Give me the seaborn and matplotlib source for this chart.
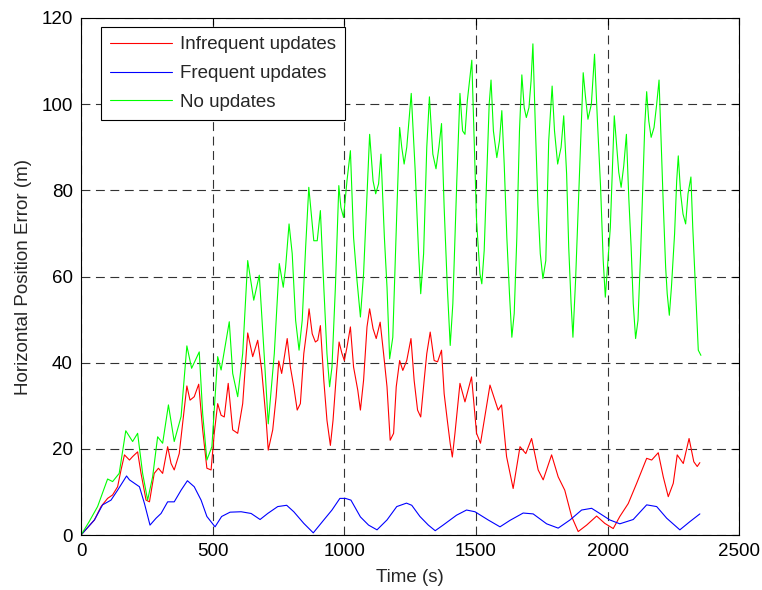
import matplotlib
matplotlib.use("Agg")
import matplotlib.pyplot as plt
import seaborn as sns
import pandas as pd

# Horizontal position error traces (time in s, error in m)
infrequent_t = [0, 51, 76, 101, 120, 139, 152, 165, 184, 196, 215, 228, 247, 260, 278, 294, 310, 329, 342, 354,
                373, 389, 402, 414, 430, 447, 462, 478, 494, 506, 519, 532, 544, 559, 576, 595, 614, 633, 652, 671,
                686, 703, 711, 728, 741, 751, 762, 770, 783, 795, 808, 821, 833, 846, 859, 866, 878, 890, 899, 909,
                922, 934, 947, 957, 970, 980, 991, 1000, 1010, 1023, 1035, 1051, 1061, 1073, 1086, 1096, 1109, 1121,
                1136, 1149, 1162, 1174, 1187, 1197, 1210, 1222, 1237, 1253, 1265, 1278, 1290, 1303, 1313, 1326,
                1341, 1354, 1369, 1379, 1391, 1402, 1410, 1420, 1439, 1458, 1483, 1502, 1517, 1553, 1584, 1597,
                1616, 1641, 1667, 1689, 1711, 1736, 1755, 1787, 1812, 1837, 1863, 1888, 1920, 1958, 1989, 2021,
                2046, 2078, 2110, 2148, 2167, 2192, 2211, 2230, 2249, 2264, 2287, 2309, 2327, 2340, 2350]
infrequent_v = [0, 3.5, 6.6, 8.5, 9.3, 11.2, 15.1, 18.6, 17.4, 18.2, 19.3, 14.3, 8.1, 7.7, 14.3, 15.5, 14.3, 20.5,
                16.6, 15.1, 18.9, 27.5, 34.6, 31.3, 32.1, 35.0, 24.4, 15.5, 15.1, 23.6, 30.5, 27.8, 27.4, 35.2, 24.4,
                23.6, 30.5, 46.9, 41.4, 45.2, 38.3, 26.7, 19.7, 24.4, 32.1, 40.4, 37.5, 40.5, 45.6, 39.0, 34.4, 29.0,
                30.5, 42.1, 48.3, 52.5, 46.7, 44.8, 45.2, 48.6, 35.9, 26.6, 20.8, 26.6, 37.5, 44.8, 42.1, 40.5, 43.6,
                48.3, 39.0, 33.6, 29.0, 35.9, 48.3, 52.5, 47.9, 45.6, 49.4, 42.1, 34.4, 22.0, 23.6, 34.4, 40.5, 38.2,
                40.5, 45.6, 35.9, 29.0, 27.4, 35.9, 42.1, 47.1, 40.5, 40.2, 42.9, 32.8, 26.6, 21.2, 18.1, 23.6, 35.2,
                30.9, 36.7, 23.6, 21.3, 34.8, 29.0, 30.2, 18.2, 10.8, 20.5, 18.9, 22.4, 15.1, 12.8, 18.6, 13.5, 10.4,
                4.3, 0.8, 2.3, 4.4, 2.7, 1.5, 4.3, 7.3, 12.0, 17.8, 17.4, 19.1, 13.5, 8.9, 12.0, 18.6, 16.6, 22.4,
                17.0, 15.9, 16.8]

frequent_t = [0, 51, 82, 114, 139, 173, 184, 203, 222, 241, 262, 285, 304, 329, 354, 380, 404, 430, 456, 478, 509,
              534, 566, 608, 646, 680, 709, 747, 781, 808, 846, 882, 922, 953, 983, 1004, 1025, 1061, 1092, 1124,
              1162, 1199, 1236, 1256, 1287, 1319, 1345, 1375, 1426, 1464, 1496, 1546, 1591, 1629, 1679, 1717, 1768,
              1812, 1857, 1901, 1939, 1970, 2008, 2046, 2097, 2148, 2186, 2224, 2274, 2312, 2350]
frequent_v = [0, 3.5, 7.0, 8.1, 10.4, 13.7, 12.8, 12.0, 11.2, 7.3, 2.3, 3.9, 5.0, 7.7, 7.7, 10.4, 12.6, 11.2, 8.1,
              4.3, 1.9, 4.3, 5.3, 5.4, 5.0, 3.6, 5.0, 6.6, 6.9, 5.4, 2.7, 0.5, 3.5, 5.8, 8.5, 8.5, 8.1, 4.2, 2.3, 1.2,
              3.5, 6.6, 7.4, 6.9, 4.3, 2.3, 1.0, 2.3, 4.6, 5.8, 5.4, 3.5, 1.9, 3.4, 5.1, 4.9, 2.6, 1.6, 3.5, 5.8, 6.2,
              5.0, 3.5, 2.6, 3.6, 7.0, 6.6, 3.9, 1.2, 3.1, 4.9]

none_t = [0, 30, 63, 101, 120, 145, 170, 196, 215, 234, 253, 272, 291, 310, 332, 354, 380, 402, 420, 449, 462, 478,
          497, 519, 532, 563, 576, 595, 614, 633, 656, 677, 696, 711, 734, 753, 768, 777, 790, 802, 815, 828, 840,
          853, 865, 878, 884, 897, 909, 922, 934, 944, 953, 966, 979, 987, 997, 1010, 1023, 1035, 1048, 1061, 1073,
          1086, 1096, 1109, 1119, 1130, 1139, 1152, 1162, 1172, 1184, 1199, 1210, 1218, 1227, 1237, 1254, 1269,
          1282, 1290, 1301, 1313, 1323, 1336, 1348, 1359, 1369, 1379, 1391, 1402, 1412, 1427, 1439, 1449, 1458,
          1467, 1484, 1492, 1502, 1515, 1522, 1531, 1541, 1550, 1557, 1566, 1579, 1589, 1598, 1607, 1617, 1627,
          1636, 1645, 1655, 1665, 1674, 1683, 1691, 1701, 1709, 1716, 1725, 1735, 1744, 1754, 1765, 1776, 1789,
          1798, 1810, 1823, 1833, 1844, 1852, 1861, 1868, 1878, 1891, 1907, 1916, 1925, 1938, 1950, 1961, 1973,
          1983, 1991, 2010, 2020, 2025, 2033, 2042, 2051, 2061, 2071, 2080, 2089, 2097, 2106, 2115, 2125, 2135,
          2141, 2148, 2156, 2165, 2176, 2186, 2195, 2204, 2211, 2220, 2226, 2234, 2242, 2254, 2262, 2268, 2277,
          2286, 2296, 2305, 2316, 2323, 2331, 2338, 2344, 2354]
none_v = [0, 3.0, 6.6, 13.0, 12.4, 14.3, 24.2, 21.7, 23.6, 14.3, 8.1, 13.5, 22.8, 21.3, 30.2, 21.7, 27.5, 43.9,
          38.7, 42.5, 28.2, 17.4, 20.5, 41.4, 38.3, 49.5, 37.5, 32.1, 42.1, 63.7, 54.5, 60.3, 41.4, 25.8, 42.1,
          63.0, 57.5, 62.2, 72.2, 65.3, 49.8, 42.9, 49.8, 66.8, 80.7, 72.2, 68.3, 68.3, 75.3, 57.5, 42.1, 34.4,
          39.0, 57.5, 81.1, 76.0, 73.7, 82.2, 89.2, 69.1, 59.1, 50.6, 60.6, 79.2, 93.0, 82.2, 79.2, 81.5, 88.4,
          69.1, 57.5, 40.9, 45.9, 74.5, 94.6, 90.0, 86.1, 90.0, 102.5, 84.6, 65.3, 56.0, 65.3, 90.0, 101.7, 88.4,
          85.0, 90.0, 95.5, 76.0, 57.5, 44.0, 53.7, 82.2, 102.5, 93.8, 93.0, 100.8, 110.2, 93.8, 73.0, 60.6, 58.3,
          66.0, 83.8, 100.0, 105.6, 93.8, 87.6, 91.5, 98.5, 86.1, 69.1, 56.0, 45.9, 51.4, 69.1, 93.8, 106.8, 99.2,
          96.9, 99.2, 105.4, 114.0, 95.4, 76.8, 65.3, 59.5, 63.7, 91.5, 104.2, 93.8, 86.1, 90.0, 97.3, 83.8, 66.8,
          53.7, 45.9, 59.1, 80.7, 107.3, 101.5, 96.5, 100.0, 111.6, 96.1, 80.7, 63.7, 55.2, 71.4, 88.4, 97.3,
          91.1, 84.2, 80.7, 85.7, 93.0, 78.4, 66.8, 53.7, 45.6, 49.8, 65.3, 83.8, 95.4, 102.9, 96.1, 92.3, 94.6,
          100.0, 105.6, 89.6, 76.8, 62.2, 56.0, 51.0, 57.5, 69.9, 82.2, 88.0, 79.2, 74.5, 72.2, 79.2, 83.1, 71.4,
          60.6, 51.4, 42.9, 41.7]

series_labels = ["Infrequent updates", "Frequent updates", "No updates"]
series_colors = ["#ff0000", "#0000ff", "#00ff00"]
x_ticks = [0, 500, 1000, 1500, 2000, 2500]
y_ticks = [0, 20, 40, 60, 80, 100, 120]

sns.set_style("white")
plt.rcParams["font.family"] = ["Liberation Sans", "DejaVu Sans"]
plt.rcParams["font.size"] = 13.5

fig = plt.figure(figsize=(7.62, 5.90), dpi=100)
ax = fig.add_axes([0.1063, 0.0932, 0.8640, 0.8763])

traces = [(infrequent_t, infrequent_v), (frequent_t, frequent_v), (none_t, none_v)]
for (t, v), label, color in zip(traces, series_labels, series_colors):
    df = pd.DataFrame({"Time": t, "Error": v})
    sns.lineplot(data=df, x="Time", y="Error", ax=ax, color=color, linewidth=0.8,
                 label=label, estimator=None, sort=False)

ax.set_xlim(0, 2500)
ax.set_ylim(0, 120)
ax.set_xticks(x_ticks)
ax.set_yticks(y_ticks)
ax.set_xlabel("Time (s)", fontsize=13.5, labelpad=6)
ax.set_ylabel("Horizontal Position Error (m)", fontsize=13.5, labelpad=7)

ax.grid(True, color="0.2", linestyle=(0, (8, 5)), linewidth=0.8)
ax.set_axisbelow(True)
for side in ax.spines.values():
    side.set_color("black")
    side.set_linewidth(0.8)
ax.tick_params(direction="in", length=5, width=0.8, top=True, right=True,
               labelsize=13.5, pad=6, colors="black")

leg = ax.legend(loc="upper left", bbox_to_anchor=(0.0304, 0.9826), borderaxespad=0,
                fontsize=13.5, handlelength=3.3, handletextpad=0.4, labelspacing=0.62,
                borderpad=0.5, frameon=True, fancybox=False, framealpha=1)
leg.get_frame().set_edgecolor("black")
leg.get_frame().set_linewidth(0.8)

fig.savefig("out.png", dpi=100)
